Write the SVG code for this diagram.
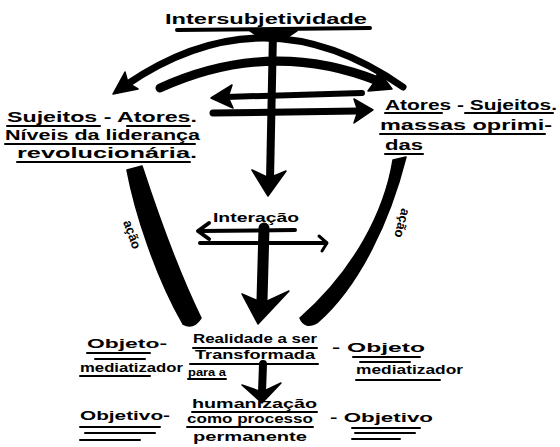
<svg xmlns="http://www.w3.org/2000/svg" width="560" height="447" viewBox="0 0 560 447">
<style>
.t{font-family:"Liberation Sans",Arial,sans-serif;font-weight:bold;fill:#000;font-size:15px}
.s{font-size:13px}
.xs{font-size:10px}
.u{stroke:#000;stroke-width:2;fill:none;stroke-linecap:round}
.k{stroke:#000;fill:none;stroke-linecap:round;stroke-linejoin:round}
.f{fill:#000;stroke:#000;stroke-width:1.5;stroke-linejoin:round}
</style>
<rect width="560" height="447" fill="#fff"/>
<g id="connectors">
  <!-- title underline and stem -->
  <path class="k" d="M177,30 L370,28" stroke-width="4"/>
  <path class="f" d="M250,31 L297,31 L285,39 L262,39 Z"/>
  <path class="k" d="M273,32 L270,180" stroke-width="8"/>
  <path class="f" d="M268,196 L252,170 L269,178 L286,171 Z"/>
  <!-- outer arc, arrow left -->
  <path class="k" d="M126,85 Q265,-10 403,87" stroke-width="7"/>
  <path class="f" d="M113,94 L125,72 L128,83 L138,89 Z"/>
  <!-- inner arc, arrow right -->
  <path class="k" d="M160,88 Q270,38 378,81" stroke-width="9"/>
  <path class="f" d="M392,89 L378,70 L376,80 L368,91 Z"/>
  <!-- double horizontal arrows -->
  <path class="k" d="M226,97 L362,93" stroke-width="6"/>
  <path class="f" d="M211,98 L232,85 L228,97 L233,108 Z"/>
  <path class="k" d="M213,113 L358,111" stroke-width="7"/>
  <path class="f" d="M373,110 L354,99 L358,111 L354,123 Z"/>
  <!-- acao strokes -->
  <path class="f" d="M127,170 C135,212 155,275 183,324 Q193,330 201,318 C180,275 158,215 142,166 Z"/>
  <path class="f" d="M393,160 C385,210 355,270 300,318 Q305,330 318,322 C360,285 390,220 406,157 Z"/>
  <!-- interacao arrows -->
  <path class="k" d="M200,231 L295,230" stroke-width="4"/>
  <path class="k" d="M209,223 L198,231 L209,239" stroke-width="4"/>
  <path class="k" d="M200,243 L326,243" stroke-width="4"/>
  <path class="k" d="M319,236 L327,243 L322,251" stroke-width="3"/>
  <path class="k" d="M264,228 L262,300" stroke-width="11"/>
  <path class="f" d="M258,324 L242,294 L263,303 L289,291 Z"/>
  <!-- bottom arrow -->
  <path class="k" d="M263,364 L262,392" stroke-width="8"/>
  <path class="f" d="M262,403 L242,385 L262,392 L281,383 Z"/>
</g>
<g id="intersubjetividade">
  <text class="t" x="165" y="24" textLength="202" lengthAdjust="spacingAndGlyphs" font-size="16">Intersubjetividade</text>
</g>
<g id="lideranca">
  <text class="t" x="7" y="122" textLength="190" lengthAdjust="spacingAndGlyphs">Sujeitos - Atores.</text>
  <path class="u" d="M7,126 L100,126 M127,126 L190,126"/>
  <text class="t" x="5" y="140" textLength="195" lengthAdjust="spacingAndGlyphs">Níveis da liderança</text>
  <path class="u" d="M5,144 L195,144"/>
  <text class="t" x="17" y="158" textLength="180" lengthAdjust="spacingAndGlyphs">revolucionária.</text>
  <path class="u" d="M17,162 L190,162"/>
</g>
<g id="massas">
  <text class="t" x="385" y="110" textLength="172" lengthAdjust="spacingAndGlyphs">Atores - Sujeitos.</text>
  <path class="u" d="M385,113 L442,113 M465,113 L553,113"/>
  <text class="t" x="380" y="130" textLength="172" lengthAdjust="spacingAndGlyphs">massas oprimi-</text>
  <path class="u" d="M380,134 L545,134"/>
  <text class="t" x="385" y="150" textLength="38" lengthAdjust="spacingAndGlyphs">das</text>
  <path class="u" d="M385,154 L423,154"/>
</g>
<g id="acao-esq">
  <text class="t s" transform="translate(128,236) rotate(70)" text-anchor="middle">ação</text>
</g>
<g id="acao-dir">
  <text class="t s" transform="translate(398,222) rotate(105)" text-anchor="middle">ação</text>
</g>
<g id="interacao">
  <text class="t s" x="213" y="222" textLength="86" lengthAdjust="spacingAndGlyphs">Interação</text>
</g>
<g id="realidade">
  <text class="t s" x="193" y="343" textLength="124" lengthAdjust="spacingAndGlyphs">Realidade a ser</text>
  <path class="u" d="M193,348 L317,348"/>
  <text class="t s" x="195" y="359" textLength="120" lengthAdjust="spacingAndGlyphs">Transformada</text>
  <path class="u" d="M190,364 L318,364"/>
  <text class="t xs" x="188" y="376" textLength="38" lengthAdjust="spacingAndGlyphs">para a</text>
  <path class="u" d="M188,379 L226,379"/>
</g>
<g id="humanizacao">
  <text class="t s" x="192" y="408" textLength="125" lengthAdjust="spacingAndGlyphs">humanização</text>
  <path class="u" d="M192,412 L317,412"/>
  <text class="t s" x="187" y="423" textLength="126" lengthAdjust="spacingAndGlyphs">como processo</text>
  <path class="u" d="M187,427 L313,427"/>
  <text class="t s" x="193" y="441" textLength="114" lengthAdjust="spacingAndGlyphs">permanente</text>
</g>
<g id="objeto-esq">
  <text class="t s" x="87" y="348" textLength="80" lengthAdjust="spacingAndGlyphs">Objeto-</text>
  <path class="u" d="M87,353 L150,353 M95,359 L145,359"/>
  <text class="t s" x="80" y="372" textLength="103" lengthAdjust="spacingAndGlyphs">mediatizador</text>
  <path class="u" d="M80,376 L150,376"/>
</g>
<g id="objetivo-esq">
  <text class="t s" x="80" y="420" textLength="90" lengthAdjust="spacingAndGlyphs">Objetivo-</text>
  <path class="u" d="M80,427 L160,427 M85,433 L155,433 M80,440 L140,440"/>
</g>
<g id="objeto-dir">
  <text class="t s" x="332" y="352" textLength="93" lengthAdjust="spacingAndGlyphs">- Objeto</text>
  <path class="u" d="M353,357 L420,357 M360,362 L410,362"/>
  <text class="t s" x="356" y="374" textLength="107" lengthAdjust="spacingAndGlyphs">mediatizador</text>
  <path class="u" d="M356,380 L440,380"/>
</g>
<g id="objetivo-dir">
  <text class="t s" x="330" y="422" textLength="103" lengthAdjust="spacingAndGlyphs">- Objetivo</text>
  <path class="u" d="M352,428 L420,428 M355,433 L415,433 M352,439 L400,439"/>
</g>
</svg>
